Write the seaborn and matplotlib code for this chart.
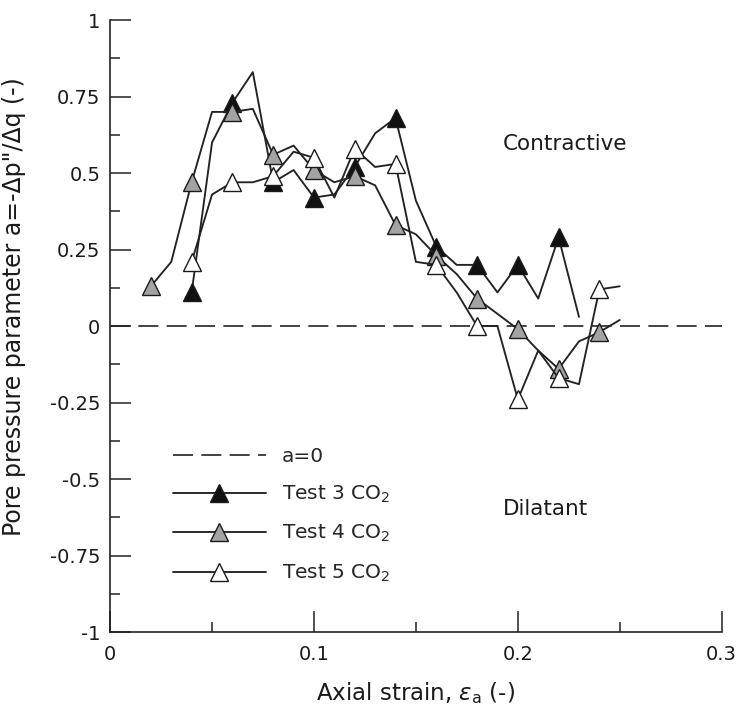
import matplotlib
matplotlib.use("Agg")
import matplotlib.pyplot as plt
import seaborn as sns
import pandas as pd
from matplotlib.lines import Line2D
from matplotlib.ticker import MultipleLocator

# Pore pressure parameter a = -dp''/dq versus axial strain for three CO2 tests
strain_t3 = [0.04, 0.05, 0.06, 0.07, 0.08, 0.09, 0.10, 0.11, 0.12, 0.13,
             0.14, 0.15, 0.16, 0.17, 0.18, 0.19, 0.20, 0.21, 0.22, 0.23]
a_t3 = [0.11, 0.60, 0.73, 0.83, 0.47, 0.51, 0.42, 0.43, 0.52, 0.63,
        0.68, 0.41, 0.26, 0.20, 0.20, 0.11, 0.20, 0.09, 0.29, 0.03]

strain_t4 = [0.02, 0.03, 0.04, 0.05, 0.06, 0.07, 0.08, 0.09, 0.10, 0.11, 0.12, 0.13,
             0.14, 0.15, 0.16, 0.17, 0.18, 0.19, 0.20, 0.21, 0.22, 0.23, 0.24, 0.25]
a_t4 = [0.13, 0.21, 0.47, 0.70, 0.70, 0.71, 0.56, 0.59, 0.51, 0.47, 0.49, 0.46,
        0.33, 0.30, 0.23, 0.17, 0.09, 0.04, -0.01, -0.08, -0.14, -0.05, -0.02, 0.02]

strain_t5 = [0.04, 0.05, 0.06, 0.07, 0.08, 0.09, 0.10, 0.11, 0.12, 0.13, 0.14,
             0.15, 0.16, 0.17, 0.18, 0.19, 0.20, 0.21, 0.22, 0.23, 0.24, 0.25]
a_t5 = [0.21, 0.43, 0.47, 0.47, 0.49, 0.57, 0.55, 0.42, 0.58, 0.52, 0.53,
        0.21, 0.20, 0.11, 0.00, 0.00, -0.24, -0.08, -0.17, -0.19, 0.12, 0.13]

series_labels = ["Test 3 CO$_2$", "Test 4 CO$_2$", "Test 5 CO$_2$"]
marker_fills = ["#111111", "#a3a3a3", "#ffffff"]

y_ticks = [1, 0.75, 0.5, 0.25, 0, -0.25, -0.5, -0.75, -1]
y_tick_labels = ["1", "0.75", "0.5", "0.25", "0", "-0.25", "-0.5", "-0.75", "-1"]
x_ticks = [0, 0.1, 0.2, 0.3]
x_tick_labels = ["0", "0.1", "0.2", "0.3"]

sns.set_style("ticks")
plt.rcParams["font.family"] = ["DejaVu Sans"]
plt.rcParams["axes.unicode_minus"] = False
plt.rcParams["mathtext.fontset"] = "dejavusans"

TICK_FS = 14
LABEL_FS = 16.5
LEG_FS = 14.5
LINE = "#222222"
TEXT = "#1a1a1a"

fig = plt.figure(figsize=(7.44, 7.09), dpi=100)
ax = fig.add_axes([0.148, 0.1086, 0.822, 0.863])

# zero line separating contractive and dilatant behaviour
ax.axhline(0, color=LINE, lw=1.2, linestyle=(0, (12, 5)), zorder=1)

frames = [
    pd.DataFrame({"strain": strain_t3, "a": a_t3}),
    pd.DataFrame({"strain": strain_t4, "a": a_t4}),
    pd.DataFrame({"strain": strain_t5, "a": a_t5}),
]
for df, fill in zip(frames, marker_fills):
    sns.lineplot(data=df, x="strain", y="a", ax=ax, color=LINE, lw=1.35,
                 marker="^", markevery=2, markersize=13,
                 markerfacecolor=fill, markeredgecolor=TEXT,
                 markeredgewidth=1.0, estimator=None, sort=False, zorder=3)

ax.set_xlim(0, 0.3)
ax.set_ylim(-1, 1)
ax.set_xticks(x_ticks)
ax.set_xticklabels(x_tick_labels)
ax.set_yticks(y_ticks)
ax.set_yticklabels(y_tick_labels)
ax.xaxis.set_minor_locator(MultipleLocator(0.05))
ax.yaxis.set_minor_locator(MultipleLocator(0.125))
ax.tick_params(axis="both", which="major", direction="in", length=15, width=1.1,
               color=LINE, labelsize=TICK_FS, labelcolor=TEXT)
ax.tick_params(axis="y", which="major", pad=7)
ax.tick_params(axis="x", which="major", pad=9)
ax.tick_params(axis="both", which="minor", direction="in", length=7.5, width=1.1,
               color=LINE)

for side in ["top", "right"]:
    ax.spines[side].set_visible(False)
for side in ["left", "bottom"]:
    ax.spines[side].set_color(LINE)
    ax.spines[side].set_linewidth(1.2)

ax.set_xlabel(r"Axial strain, $\varepsilon_\mathrm{a}$ (-)", fontsize=LABEL_FS, color=TEXT)
ax.xaxis.set_label_coords(0.5, -0.078)
ax.set_ylabel('Pore pressure parameter a=-\u0394p"/\u0394q (-)', fontsize=17, color=TEXT)
ax.yaxis.set_label_coords(-0.137, 0.531)

ax.text(0.1926, 0.595, "Contractive", fontsize=15.5, color=TEXT, ha="left", va="center")
ax.text(0.1926, -0.598, "Dilatant", fontsize=15.5, color=TEXT, ha="left", va="center")

handles = [Line2D([], [], color=LINE, lw=1.2, linestyle=(0, (12, 5)))]
for fill in marker_fills:
    handles.append(Line2D([], [], color=LINE, lw=1.35, marker="^", markersize=13,
                          markerfacecolor=fill, markeredgecolor=TEXT,
                          markeredgewidth=1.0))
ax.legend(handles, ["a=0"] + series_labels, loc="upper left",
          bbox_to_anchor=(0.08, 0.326), frameon=False, fontsize=LEG_FS,
          handlelength=4.6, handletextpad=0.8, labelspacing=0.9, borderpad=0.2)

fig.savefig("out.png", dpi=100)
